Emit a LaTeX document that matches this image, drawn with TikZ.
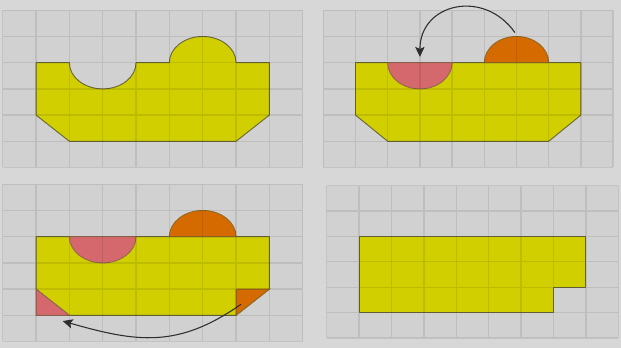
\documentclass[tikz,border=0pt]{standalone}
\usepackage{xcolor}
\usepackage{tikz}
\usetikzlibrary{arrows.meta}
\definecolor{areaBack}{HTML}{D7D7D7}
\definecolor{areaPanel}{HTML}{D1D1D1}
\definecolor{areaYellow}{HTML}{D1CF00}
\definecolor{areaPink}{HTML}{D5686C}
\definecolor{areaOrange}{HTML}{D56B00}
\definecolor{areaEdge}{HTML}{6A6838}
\definecolor{areaArrow}{HTML}{2E2E2E}
\tikzset{
  panel/.style={fill=areaPanel},
  gridline/.style={draw=black, draw opacity=0.09, line width=1pt},
  figure/.style={fill=areaYellow, draw=areaEdge, line width=0.7pt, line join=round},
  movedpart/.style={fill=areaPink, draw=areaEdge!60!areaPink, line width=0.7pt},
  cutpart/.style={fill=areaOrange, draw=areaEdge!60!areaOrange, line width=0.7pt},
  arrow/.style={-{Stealth[length=7.5pt, width=7pt, inset=1.5pt]}, draw=areaArrow, line width=0.8pt}
}

\begin{document}
\begin{tikzpicture}[x=0.75pt, y=0.75pt]
  \fill[areaBack] (0,0) rectangle (621,348);
  \useasboundingbox (0,0) rectangle (621,348);

  \begin{scope}[shift={(2.7,180.5)}, x=25pt, y=19.65pt]
    \fill[panel] (0,0) rectangle (9,6);
    \draw[figure] (1,4) -- (2,4) arc[start angle=180, end angle=360, radius=1] -- (5,4)
      arc[start angle=180, end angle=0, radius=1] -- (8,4) -- (8,2) -- (7,1) -- (2,1) -- (1,2) -- cycle;
    \draw[gridline, step=1] (0,0) grid (9,6);
  \end{scope}

  \begin{scope}[shift={(323.3,180.5)}, x=24.15pt, y=19.65pt]
    \fill[panel] (0,0) rectangle (9,6);
    \draw[figure] (1,4) -- (8,4) -- (8,2) -- (7,1) -- (2,1) -- (1,2) -- cycle;
    \draw[movedpart] (2,4) arc[start angle=180, end angle=360, radius=1] -- cycle;
    \draw[cutpart] (5,4) arc[start angle=180, end angle=0, radius=1] -- cycle;
    \draw[gridline, step=1] (0,0) grid (9,6);
    \coordinate (bumptop) at (5.95,5.15);
    \coordinate (holetop) at (3,4.22);
    \draw[arrow] (bumptop) to[out=125, in=90, looseness=1.4] (holetop);
  \end{scope}

  \begin{scope}[shift={(2.7,6.5)}, x=25pt, y=19.65pt]
    \fill[panel] (0,0) rectangle (9,6);
    \draw[figure] (1,4) -- (8,4) -- (8,2) -- (7,1) -- (2,1) -- (1,2) -- cycle;
    \draw[movedpart] (2,4) arc[start angle=180, end angle=360, radius=1] -- cycle;
    \draw[cutpart] (5,4) arc[start angle=180, end angle=0, radius=1] -- cycle;
    \draw[cutpart] (7,2) -- (8,2) -- (7,1) -- cycle;
    \draw[movedpart] (1,2) -- (1,1) -- (2,1) -- cycle;
    \draw[gridline, step=1] (0,0) grid (9,6);
    \coordinate (cornercut) at (7.15,1.42);
    \coordinate (cornerfill) at (1.8,0.78);
    \draw[arrow] (cornercut) to[out=-145, in=-16, looseness=1.1] (cornerfill);
  \end{scope}

  \begin{scope}[shift={(326.7,10)}, x=24.3pt, y=19.05pt]
    \fill[panel] (0,0) rectangle (9,6);
    \draw[figure] (1,4) -- (8,4) -- (8,2) -- (7,2) -- (7,1) -- (1,1) -- cycle;
    \draw[gridline, step=1] (0,0) grid (9,6);
  \end{scope}
\end{tikzpicture}
\end{document}
